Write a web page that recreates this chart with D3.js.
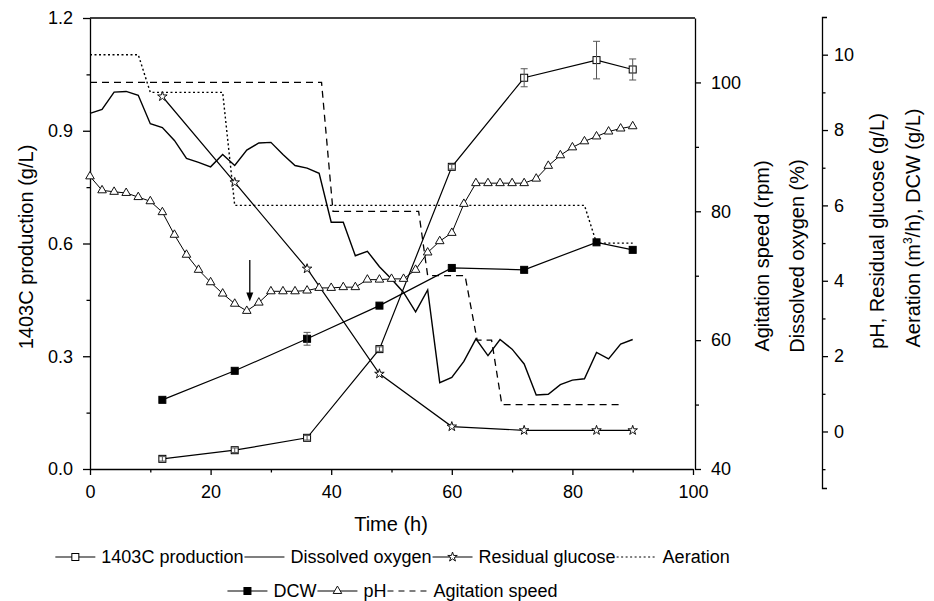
<!DOCTYPE html>
<html>
<head>
<meta charset="utf-8">
<script src="https://cdn.jsdelivr.net/npm/d3@7"></script>
<style>
body{margin:0;background:#fff}
svg{display:block;font-family:"Liberation Sans",Arial,sans-serif}
.axis path,.axis line{stroke:#000;stroke-width:1.3}
.axis text{font-size:18px;fill:#000}
</style>
</head>
<body>
<svg id="chart"></svg>
<script>
// tick labels
var timeTicks = [0, 20, 40, 60, 80, 100]
var timeMinor = [10, 30, 50, 70, 90]
var leftTicks = [0, 0.3, 0.6, 0.9, 1.2]
var leftMinor = [0.15, 0.45, 0.75, 1.05]
var midTicks = [40, 60, 80, 100]
var midMinor = [50, 70, 90]
var rightTicks = [0, 2, 4, 6, 8, 10]
var rightMinor = [-1, 1, 3, 5, 7, 9]

// sampled every 12 h
var sampleTime = [12, 24, 36, 48, 60, 72, 84, 90]
var production = [0.027, 0.05, 0.083, 0.319, 0.804, 1.041, 1.088, 1.063]
var productionErr = [0.006, 0.006, 0.006, 0.006, 0.006, 0.024, 0.05, 0.028]
var dcw = [0.84, 1.61, 2.46, 3.34, 4.34, 4.29, 5.02, 4.82]
var dcwErr = [0, 0, 0.17, 0, 0, 0, 0, 0]
var glucose = [8.89, 6.61, 4.32, 1.53, 0.13, 0.03, 0.03, 0.03]

// online readings every 2 h
var onlineTime = [0, 2, 4, 6, 8, 10, 12, 14, 16, 18, 20, 22, 24, 26, 28, 30, 32, 34, 36, 38, 40, 42, 44,
                  46, 48, 50, 52, 54, 56, 58, 60, 62, 64, 66, 68, 70, 72, 74, 76, 78, 80, 82, 84, 86, 88, 90]
var ph = [6.77, 6.40, 6.36, 6.33, 6.22, 6.11, 5.82, 5.22, 4.69, 4.29, 3.96, 3.66, 3.39, 3.20, 3.42, 3.72,
          3.72, 3.72, 3.74, 3.81, 3.81, 3.83, 3.83, 4.03, 4.03, 4.05, 4.05, 4.29, 4.75, 5.05, 5.27, 6.04,
          6.59, 6.59, 6.59, 6.59, 6.59, 6.71, 7.05, 7.33, 7.54, 7.70, 7.83, 7.96, 8.04, 8.10]
var dissolvedOxygen = [95.2, 95.8, 98.5, 98.6, 98.0, 93.6, 93.0, 91.0, 88.2, 87.6, 86.9, 88.8, 87.1, 89.5,
          90.6, 90.7, 88.8, 87.1, 86.7, 85.9, 78.3, 78.3, 73.1, 73.8, 71.4, 69.5, 67.4, 64.4, 67.8, 53.4,
          54.2, 56.7, 60.2, 57.6, 60.1, 58.6, 56.3, 51.5, 51.6, 53.1, 53.8, 54.0, 58.1, 57.1, 59.4, 60.1]

// set points
var agitationTime = [0, 38.4, 40.3, 54.5, 56, 62.2, 64.2, 66.6, 68.3, 88.4]
var agitation = [100, 100, 80, 80, 70, 70, 60, 60, 50, 50]
var aerationTime = [0, 8, 10, 22, 24, 82, 84, 90]
var aeration = [10, 10, 9, 9, 6, 6, 5, 5]

var legendNames = ["1403C production", "Dissolved oxygen", "Residual glucose", "Aeration", "DCW", "pH", "Agitation speed"]
var legendKinds = ["square", "solid", "star", "dotted", "filled", "triangle", "dashed"]
var legendRows = [[0, 1, 2, 3], [4, 5, 6]]

var svg = d3.select("#chart").attr("width", 934).attr("height", 601)

var xScale = d3.scaleLinear().domain([0, 100]).range([90, 693])
var yLeft = d3.scaleLinear().domain([0, 1.2]).range([469, 18])
var yMid = d3.scaleLinear().domain([40, 110]).range([469, 18])
var yRight = d3.scaleLinear().domain([-1.5, 11]).range([488, 17])

var drawMarker = function(g, type, x, y)
{
    if (type == "square" || type == "filled")
    {
        g.append("rect")
            .attr("x", x - 3.5).attr("y", y - 3.5)
            .attr("width", 7).attr("height", 7)
            .attr("fill", type == "filled" ? "#000" : "#fff")
            .attr("stroke", "#000").attr("stroke-width", 1)
    }
    else
    {
        var sym = d3.symbol()
            .type(type == "star" ? d3.symbolStar : d3.symbolTriangle)
            .size(type == "star" ? 28 : 32)
        g.append("path")
            .attr("transform", "translate(" + x + "," + y + ")")
            .attr("d", sym())
            .attr("fill", "#fff").attr("stroke", "#111").attr("stroke-width", 1)
    }
}

var drawSeries = function(times, values, scale, dash, width)
{
    var line = d3.line()
        .x(function(d, i) { return xScale(times[i]) })
        .y(function(d) { return scale(d) })
    svg.append("path")
        .datum(values)
        .attr("d", line)
        .attr("fill", "none")
        .attr("stroke", "#000")
        .attr("stroke-width", width)
        .attr("stroke-dasharray", dash)
}

var drawMarkers = function(times, values, scale, type)
{
    var g = svg.append("g")
    values.forEach(function(v, i)
    {
        drawMarker(g, type, xScale(times[i]), scale(v))
    })
}

var drawErrors = function(times, values, errs, scale)
{
    var g = svg.append("g").attr("stroke", "#555").attr("stroke-width", 1)
    values.forEach(function(v, i)
    {
        if (!errs[i]) return
        var x = xScale(times[i])
        var y0 = scale(v - errs[i]), y1 = scale(v + errs[i])
        g.append("line").attr("x1", x).attr("x2", x).attr("y1", y0).attr("y2", y1)
        g.append("line").attr("x1", x - 3.5).attr("x2", x + 3.5).attr("y1", y0).attr("y2", y0)
        g.append("line").attr("x1", x - 3.5).attr("x2", x + 3.5).attr("y1", y1).attr("y2", y1)
    })
}

// axes
var gx = svg.append("g").attr("class", "axis").attr("transform", "translate(0,469)")
gx.call(d3.axisBottom(xScale).tickValues(timeTicks).tickSize(6).tickSizeOuter(0).tickPadding(10))
gx.append("g").call(d3.axisBottom(xScale).tickValues(timeMinor).tickSize(3.5).tickFormat(""))
    .select(".domain").remove()

var gl = svg.append("g").attr("class", "axis").attr("transform", "translate(90,0)")
gl.call(d3.axisLeft(yLeft).tickValues(leftTicks).tickFormat(d3.format(".1f")).tickSize(7).tickSizeOuter(0).tickPadding(10))
gl.append("g").call(d3.axisLeft(yLeft).tickValues(leftMinor).tickSize(3.5).tickFormat(""))
    .select(".domain").remove()

var gm = svg.append("g").attr("class", "axis").attr("transform", "translate(695,0)")
gm.call(d3.axisRight(yMid).tickValues(midTicks).tickSize(6).tickSizeOuter(0).tickPadding(10))
gm.append("g").call(d3.axisRight(yMid).tickValues(midMinor).tickSize(4).tickFormat(""))
    .select(".domain").remove()

var gr = svg.append("g").attr("class", "axis").attr("transform", "translate(822,0)")
gr.call(d3.axisRight(yRight).tickValues(rightTicks).tickSize(6).tickSizeOuter(5).tickPadding(6))
gr.append("g").call(d3.axisRight(yRight).tickValues(rightMinor).tickSize(3.5).tickFormat(""))
    .select(".domain").remove()

// top frame
svg.append("line")
    .attr("x1", 90).attr("x2", 695)
    .attr("y1", yLeft(1.2)).attr("y2", yLeft(1.2))
    .attr("stroke", "#000").attr("stroke-width", 1.3)

// axis titles
var title = function(x, y, rotate, txt)
{
    return svg.append("text")
        .attr("transform", "translate(" + x + "," + y + ")" + (rotate ? " rotate(-90)" : ""))
        .attr("text-anchor", "middle")
        .attr("font-size", 20)
        .text(txt)
}
title(391, 531, false, "Time (h)")
title(33, 247, true, "1403C production (g/L)")
title(769, 256, true, "Agitation speed (rpm)")
title(804, 256, true, "Dissolved oxygen (%)")
title(884, 231, true, "pH, Residual glucose (g/L)")
var aer = title(920, 228, true, "Aeration (m")
aer.append("tspan").attr("font-size", 12).attr("dy", -8).text("3")
aer.append("tspan").attr("dy", 8).text("/h), DCW (g/L)")

// lines
drawSeries(aerationTime, aeration, yRight, "2,2.5", 1.4)
drawSeries(agitationTime, agitation, yMid, "7,5", 1.3)
drawSeries(onlineTime, dissolvedOxygen, yMid, null, 1.4)
drawSeries(onlineTime, ph, yRight, null, 1)
drawSeries(sampleTime, glucose, yRight, null, 1.2)
drawSeries(sampleTime, dcw, yRight, null, 1.2)
drawSeries(sampleTime, production, yLeft, null, 1.2)

drawMarkers(onlineTime, ph, yRight, "triangle")
drawMarkers(sampleTime, glucose, yRight, "star")
drawMarkers(sampleTime, dcw, yRight, "filled")
drawMarkers(sampleTime, production, yLeft, "square")
drawErrors(sampleTime, production, productionErr, yLeft)
drawErrors(sampleTime, dcw, dcwErr, yRight)

// arrow to the pH minimum
var arrowX = xScale(26.5), arrowTop = yRight(4.55), arrowTip = yRight(3.45)
svg.append("line")
    .attr("x1", arrowX).attr("x2", arrowX)
    .attr("y1", arrowTop).attr("y2", arrowTip - 6)
    .attr("stroke", "#000").attr("stroke-width", 1.3)
svg.append("path")
    .attr("d", "M" + (arrowX - 3.5) + "," + (arrowTip - 9) + "L" + (arrowX + 3.5) + "," + (arrowTip - 9) + "L" + arrowX + "," + arrowTip + "Z")
    .attr("fill", "#000")

// legend
var legendBase = [563, 597]
legendRows.forEach(function(row, r)
{
    var g = svg.append("g")
    var x = 0
    row.forEach(function(k)
    {
        var cy = legendBase[r] - 6
        var kind = legendKinds[k]
        var sym = g.append("line")
            .attr("x1", x).attr("x2", x + 40)
            .attr("y1", cy).attr("y2", cy)
            .attr("stroke", "#000").attr("stroke-width", 1.2)
        if (kind == "dotted") sym.attr("stroke-dasharray", "2,2.5")
        if (kind == "dashed") sym.attr("stroke-dasharray", "6,5")
        if (kind != "solid" && kind != "dotted" && kind != "dashed") drawMarker(g, kind, x + 20, cy)
        var t = g.append("text")
            .attr("x", x + 46).attr("y", legendBase[r])
            .attr("font-size", 18)
            .text(legendNames[k])
        x = x + 46 + t.node().getComputedTextLength() + 1
    })
    g.attr("transform", "translate(" + (393 - x / 2) + ",0)")
})
</script>
</body>
</html>
